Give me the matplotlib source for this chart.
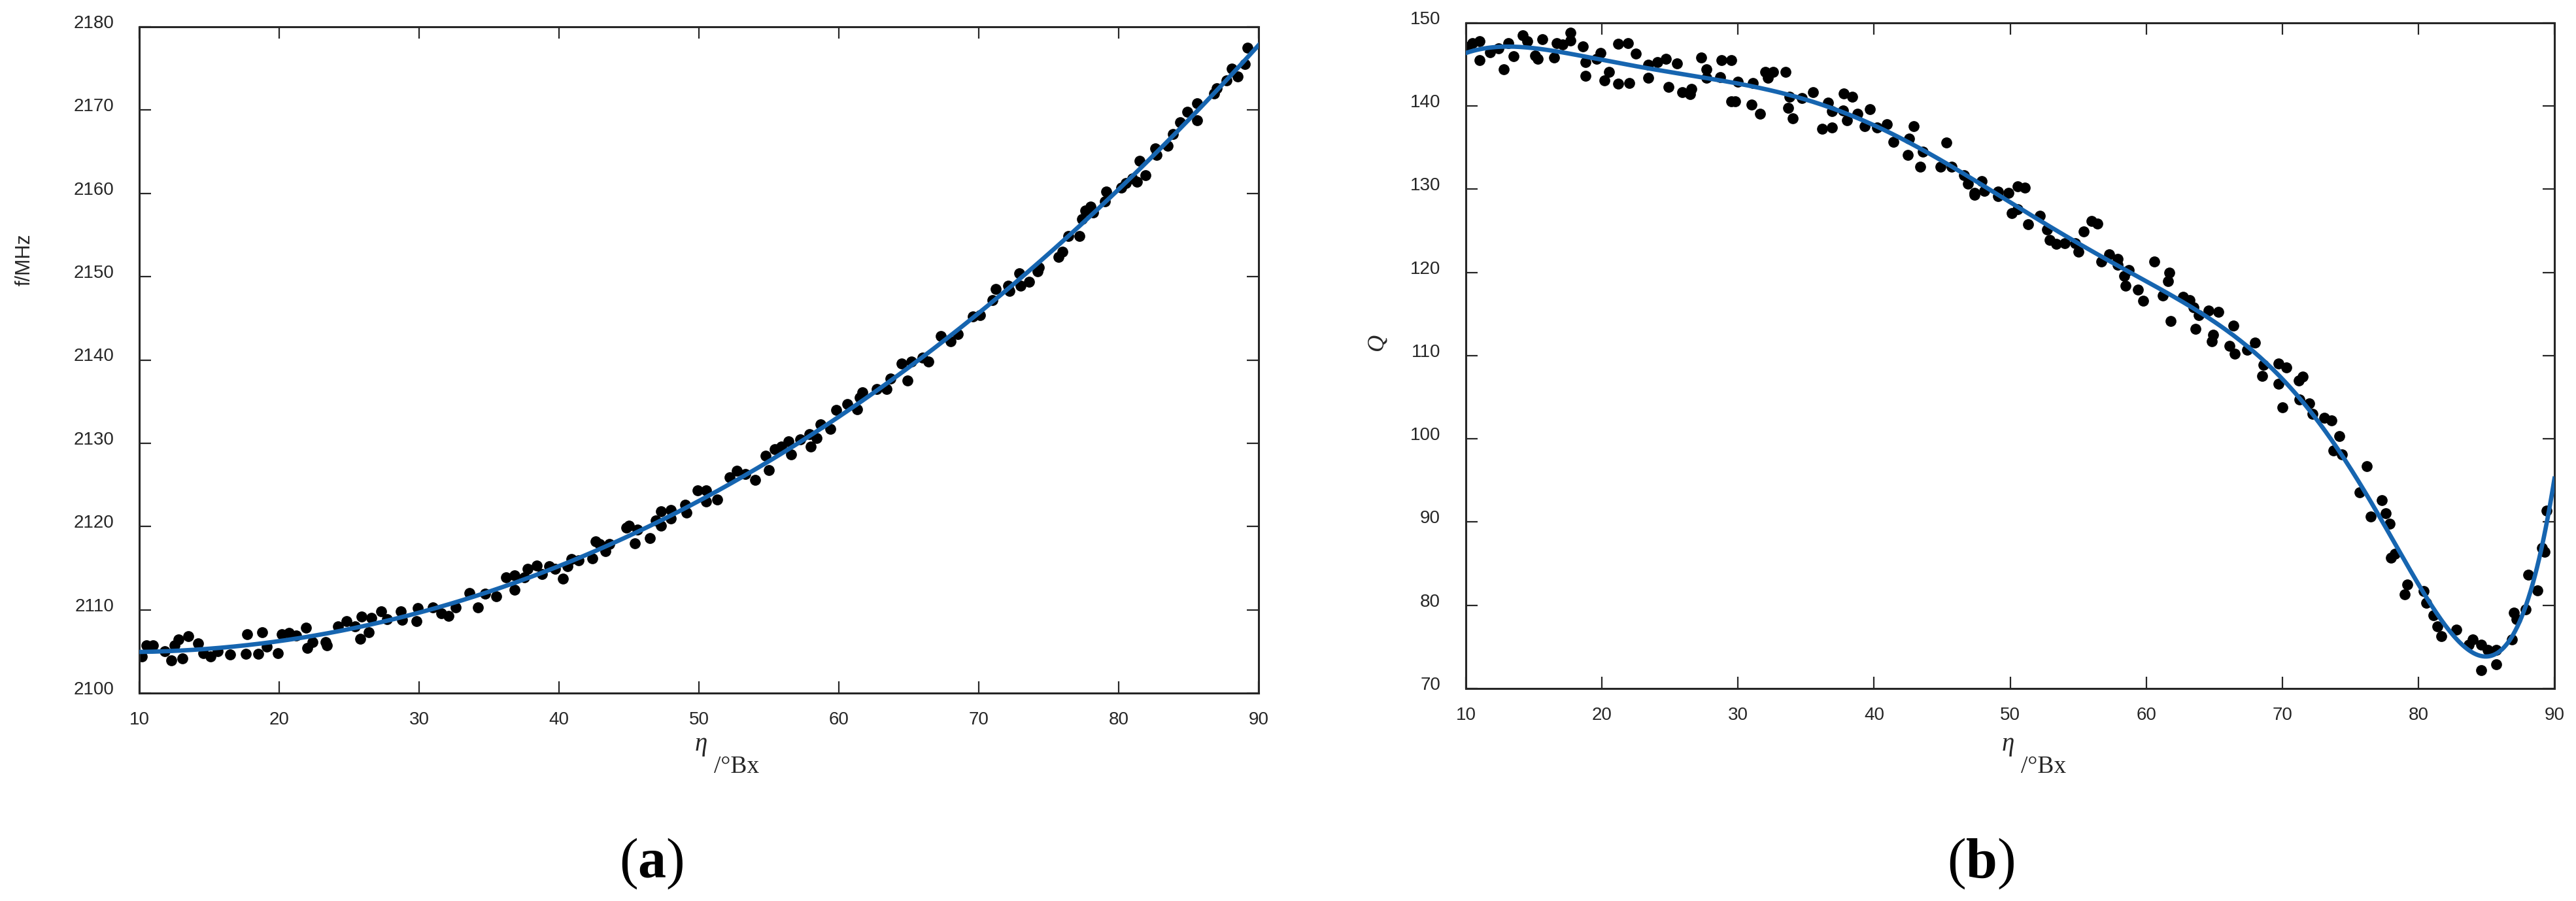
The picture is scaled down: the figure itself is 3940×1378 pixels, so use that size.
import numpy as np
import matplotlib.pyplot as plt
from matplotlib.transforms import ScaledTranslation

plt.rcParams['font.family'] = ['Liberation Sans', 'DejaVu Sans']
plt.rcParams['mathtext.fontset'] = 'custom'
plt.rcParams['mathtext.rm'] = 'Liberation Serif'
plt.rcParams['mathtext.it'] = 'Liberation Serif:italic'
plt.rcParams['mathtext.bf'] = 'Liberation Serif:bold'

# (a) resonant frequency vs. sugar content
freq_eta = [10.2, 10.5, 11.0, 11.8, 12.3, 12.5, 12.8, 13.1, 13.5, 14.2, 14.6, 15.1, 15.6, 16.5,
            17.6, 17.7, 18.5, 18.8, 19.1, 19.9, 20.2, 20.7, 21.2, 21.9, 22.0, 22.4, 23.3, 23.4,
            24.2, 24.8, 25.4, 25.8, 25.9, 26.4, 26.6, 27.3, 27.7, 28.7, 28.8, 29.8, 29.9, 31.0,
            31.6, 32.1, 32.6, 33.6, 34.2, 34.7, 35.5, 36.2, 36.8, 36.8, 37.5, 37.75, 38.4, 38.8,
            39.3, 39.7, 40.3, 40.6, 40.9, 41.4, 42.4, 42.6, 42.9, 43.3, 43.6, 44.8, 45.0, 45.4,
            45.6, 46.5, 46.9, 47.3, 47.3, 48.0, 48.0, 49.0, 49.1, 49.9, 50.5, 50.5, 51.3, 52.2,
            52.7, 53.3, 54.0, 54.75, 55.0, 55.4, 55.9, 56.4, 56.6, 57.25, 57.9, 58.0, 58.4, 58.7,
            59.4, 59.8, 60.6, 61.3, 61.5, 61.7, 62.7, 63.4, 63.7, 64.5, 64.9, 65.2, 66.0, 66.4,
            67.3, 68.0, 68.5, 69.6, 70.1, 71.0, 71.2, 72.1, 72.2, 72.9, 73.0, 73.6, 74.2, 74.3,
            75.7, 76.0, 76.4, 77.2, 77.4, 77.6, 78.0, 78.2, 79.0, 79.1, 80.2, 80.5, 81.0, 81.3,
            81.5, 81.9, 82.6, 82.7, 83.5, 83.9, 84.4, 84.9, 85.6, 85.6, 86.8, 87.0, 87.7, 88.1,
            88.5, 89.0, 89.2]
freq_mhz = [2104.4, 2105.75, 2105.75, 2105.0, 2103.9, 2105.75, 2106.4, 2104.2, 2106.8, 2106.0,
            2104.8, 2104.4, 2105.0, 2104.6, 2104.7, 2107.1, 2104.7, 2107.3, 2105.6, 2104.8,
            2107.1, 2107.2, 2106.9, 2107.85, 2105.4, 2106.1, 2106.1, 2105.75, 2108.0, 2108.6,
            2108.0, 2106.5, 2109.2, 2107.3, 2109.0, 2109.8, 2108.9, 2109.8, 2108.8, 2108.6,
            2110.2, 2110.3, 2109.55, 2109.3, 2110.3, 2112.0, 2110.3, 2111.9, 2111.6, 2113.9,
            2114.1, 2112.4, 2113.9, 2114.9, 2115.3, 2114.3, 2115.2, 2114.9, 2113.7, 2115.2,
            2116.1, 2115.95, 2116.2, 2118.2, 2117.9, 2117.0, 2117.9, 2119.9, 2120.1, 2118.0,
            2119.6, 2118.6, 2120.7, 2121.8, 2120.1, 2122.0, 2121.0, 2122.6, 2121.7, 2124.3,
            2124.3, 2123.0, 2123.2, 2125.9, 2126.7, 2126.3, 2125.6, 2128.5, 2126.8, 2129.3,
            2129.6, 2130.2, 2128.65, 2130.5, 2131.1, 2129.6, 2130.6, 2132.3, 2131.7, 2134.0,
            2134.7, 2134.1, 2135.5, 2136.1, 2136.5, 2136.5, 2137.8, 2139.6, 2137.5, 2139.8,
            2140.3, 2139.8, 2142.9, 2142.2, 2143.1, 2145.2, 2145.4, 2147.2, 2148.5, 2148.9,
            2148.3, 2150.4, 2148.9, 2149.4, 2150.6, 2151.1, 2152.4, 2153.0, 2154.9, 2154.9,
            2156.9, 2157.9, 2158.4, 2157.7, 2159.0, 2160.2, 2160.7, 2161.2, 2161.8, 2161.4,
            2163.9, 2162.2, 2165.4, 2164.6, 2165.7, 2167.1, 2168.5, 2169.8, 2170.8, 2168.8,
            2172.0, 2172.6, 2173.6, 2175.0, 2174.0, 2175.5, 2177.5]

# (b) quality factor vs. sugar content
q_eta = [10.1, 10.5, 11.0, 11.0, 11.8, 12.4, 12.8, 13.1, 13.5, 14.2, 14.5, 15.1, 15.3, 15.6,
         16.5, 16.7, 17.1, 17.7, 17.7, 18.6, 18.8, 18.8, 19.6, 19.9, 20.2, 20.5, 21.2, 21.2,
         21.9, 22.0, 22.5, 23.4, 23.4, 24.1, 24.7, 24.9, 25.5, 25.9, 26.5, 26.6, 27.3, 27.7,
         27.7, 28.7, 28.8, 29.5, 29.5, 29.8, 30.0, 31.0, 31.1, 31.6, 32.0, 32.2, 32.6, 33.5,
         33.7, 33.8, 34.0, 34.7, 35.5, 36.2, 36.9, 36.6, 36.9, 37.75, 38.4, 37.7, 38.0, 38.8,
         39.7, 39.3, 40.2, 40.95, 41.4, 42.5, 42.6, 42.9, 43.4, 43.6, 44.9, 45.3, 45.7, 46.6,
         46.9, 47.4, 47.9, 47.4, 48.1, 49.1, 49.1, 49.9, 50.55, 51.1, 50.1, 50.55, 51.3, 52.2,
         52.7, 52.9, 53.4, 54.0, 54.8, 55.0, 55.4, 56.0, 56.4, 56.7, 57.3, 57.9, 57.9, 58.4,
         58.7, 58.5, 59.4, 59.8, 60.6, 61.2, 61.7, 61.6, 61.8, 62.7, 63.2, 63.5, 63.85, 63.6,
         64.6, 65.3, 64.9, 64.8, 66.1, 66.4, 66.5, 67.4, 68.0, 68.6, 68.5, 69.7, 70.3, 69.7,
         70.0, 71.2, 71.5, 71.25, 72.0, 72.2, 73.1, 73.6, 74.2, 73.75, 74.4, 76.2, 75.7, 76.5,
         77.3, 77.6, 77.9, 78.0, 78.3, 79.2, 79.0, 80.4, 80.6, 81.1, 81.4, 81.7, 82.8, 83.7,
         84.0, 84.6, 84.6, 85.1, 85.7, 85.7, 86.9, 87.0, 87.2, 87.9, 88.1, 88.75, 89.1, 89.3,
         89.4]
q_val = [147.1, 147.6, 147.8, 145.5, 146.5, 146.9, 144.4, 147.6, 146.0, 148.5, 147.8, 146.1,
         145.7, 148.0, 145.8, 147.6, 147.4, 148.8, 147.9, 147.2, 145.3, 143.6, 145.7, 146.4,
         143.1, 144.1, 147.5, 142.7, 147.6, 142.8, 146.3, 145.0, 143.4, 145.3, 145.7, 142.3,
         145.1, 141.7, 141.4, 142.1, 145.8, 144.4, 143.4, 143.5, 145.5, 145.5, 140.6, 140.6,
         142.9, 140.2, 142.8, 139.1, 144.1, 143.4, 144.1, 144.1, 139.8, 141.1, 138.5, 140.96,
         141.7, 137.3, 137.4, 140.4, 139.4, 141.5, 141.1, 139.5, 138.3, 139.1, 139.65, 137.6,
         137.4, 137.8, 135.7, 134.1, 136.1, 137.6, 132.7, 134.5, 132.7, 135.6, 132.7, 131.7,
         130.7, 129.6, 131.0, 129.3, 129.8, 129.7, 129.2, 129.6, 130.35, 130.2, 127.1, 127.6,
         125.8, 126.8, 125.2, 123.9, 123.4, 123.5, 123.5, 122.5, 124.9, 126.2, 125.9, 121.3,
         122.2, 121.6, 120.9, 119.6, 120.3, 118.4, 117.9, 116.6, 121.3, 117.2, 120.0, 118.95,
         114.2, 117.1, 116.7, 115.8, 114.9, 113.2, 115.4, 115.3, 112.5, 111.7, 111.2, 113.6,
         110.2, 110.7, 111.6, 108.9, 107.6, 109.05, 108.6, 106.6, 103.8, 107.0, 107.5, 104.7,
         104.3, 103.0, 102.5, 102.2, 100.3, 98.6, 98.1, 96.7, 93.6, 90.7, 92.6, 91.1, 89.8,
         85.7, 86.2, 82.5, 81.3, 81.7, 80.3, 78.8, 77.5, 76.3, 77.1, 75.3, 75.9, 75.3, 72.2,
         74.6, 74.6, 72.9, 75.9, 79.1, 78.3, 79.5, 83.7, 81.8, 86.9, 86.4, 91.4]

freq_ticks = [2100, 2110, 2120, 2130, 2140, 2150, 2160, 2170, 2180]
q_ticks = [70, 80, 90, 100, 110, 120, 130, 140, 150]
eta_ticks = [10, 20, 30, 40, 50, 60, 70, 80, 90]

W, H = 3940, 1378
fig = plt.figure(figsize=(W / 100, H / 100), dpi=100)

def px(x, y):
    return x / W, 1 - y / H

ax1 = fig.add_axes([213 / W, 1 - 1060 / H, 1712 / W, 1019 / H])
ax2 = fig.add_axes([2242 / W, 1 - 1053 / H, 1665 / W, 1018 / H])

blue = '#1665B0'
for ax, xs, ys, deg, yt in [(ax1, freq_eta, freq_mhz, 3, freq_ticks),
                            (ax2, q_eta, q_val, 8, q_ticks)]:
    ax.scatter(xs, ys, s=145, color='black', linewidths=0, zorder=2)
    coef = np.polyfit(xs, ys, deg)
    xf = np.linspace(10, 90, 500)
    ax.plot(xf, np.polyval(coef, xf), color=blue, lw=4.8, zorder=3)
    ax.set_xlim(10, 90)
    ax.set_ylim(yt[0], yt[-1])
    ax.set_xticks(eta_ticks)
    ax.set_yticks(yt)
    ax.tick_params(direction='in', top=True, right=True, length=13, width=1.6,
                   colors='#262626', labelsize=20)
    ax.tick_params(axis='y', pad=28)
    ax.tick_params(axis='x', pad=20)
    for sp in ax.spines.values():
        sp.set_linewidth(2.2)
        sp.set_color('#262626')
    shift = ScaledTranslation(0, 0.08, fig.dpi_scale_trans)
    for lab in ax.get_yticklabels():
        lab.set_transform(lab.get_transform() + shift)

# axis labels
fig.text(*px(38, 397), 'f/MHz', rotation=90, ha='center', va='center', fontsize=22,
         color='#262626')
fig.text(*px(2106, 523), 'Q', rotation=90, ha='center', va='center', fontsize=26,
         family='Liberation Serif', style='italic', color='#262626')
for cx in [1072, 3071]:
    fig.text(*px(cx, 1148), 'η', ha='center', va='baseline', fontsize=28,
             family='Liberation Serif', style='italic', color='#262626')
    fig.text(*px(cx + 20, 1182), '/°Bx', ha='left', va='baseline', fontsize=27,
             family='Liberation Serif', color='#262626')

fig.text(*px(996, 1321), r'($\mathbf{a}$)', ha='center', va='center', fontsize=62,
         family='Liberation Serif')
fig.text(*px(3030, 1321), r'($\mathbf{b}$)', ha='center', va='center', fontsize=62,
         family='Liberation Serif')

fig.savefig('out.png', dpi=100)
